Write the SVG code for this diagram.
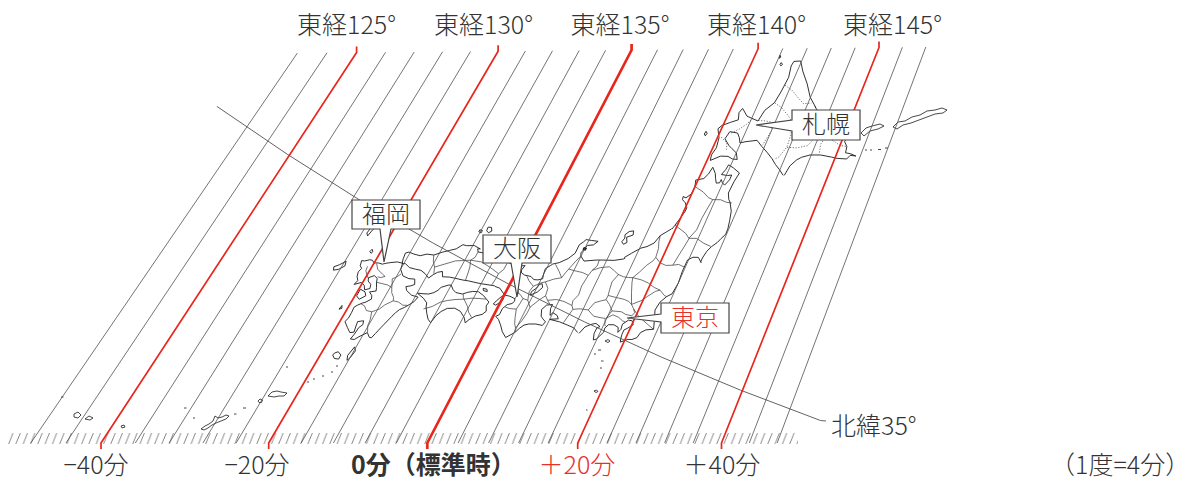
<svg xmlns="http://www.w3.org/2000/svg" width="1203" height="479" viewBox="0 0 1203 479">
<defs>
<style>
.mer{stroke:#505050;stroke-width:0.8;fill:none}
.red{stroke:#e8261c;stroke-width:1.7;fill:none;stroke-linejoin:round}
.red0{stroke-width:2.7}
.par{stroke:#505050;stroke-width:0.9;fill:none}
.coast{fill:none;stroke:#1a1a1a;stroke-width:0.9;stroke-linejoin:round;vector-effect:non-scaling-stroke}
.pref{fill:none;stroke:#333;stroke-width:0.7;stroke-linejoin:round;vector-effect:non-scaling-stroke}
.dot{fill:none;stroke:#333;stroke-width:0.7;stroke-dasharray:1.2 1.6;vector-effect:non-scaling-stroke}
.isl{fill:none;stroke:#1a1a1a;stroke-width:0.8;stroke-linejoin:round}
.lbl{font-family:"Noto Sans CJK JP","Noto Sans",sans-serif;font-size:25px;font-weight:300;fill:#333}
.call{font-family:"Noto Sans CJK JP","Noto Sans",sans-serif;font-size:24px;font-weight:300;fill:#333;text-anchor:middle}
.box{fill:#fff;stroke:#444;stroke-width:1.2;stroke-linejoin:miter}
.rt{fill:#e8302a}
</style>
<pattern id="hatch" patternUnits="userSpaceOnUse" x="8" y="433" width="7.3" height="11">
<path d="M0.6,11 L5,0" stroke="#666" stroke-width="0.8" fill="none"/>
</pattern>
</defs>
<rect width="1203" height="479" fill="#fff"/>
<rect id="scale-band" x="8" y="433" width="790" height="11" fill="url(#hatch)"/>

<g id="map">
<g transform="matrix(22.831,13.089,15.468,-26.98,319.85,357.33)">
<path class="coast" d="M0.95,3.95 L0.75,3.9 0.55,3.78 0.4,3.68 0.3,3.6 0.15,3.57 0,3.5 -0.1,3.55 -0.2,3.52 -0.35,3.4 -0.45,3.37 -0.4,3.2 -0.3,3.15 -0.35,3 -0.3,2.85 -0.2,2.75 -0.25,2.58 -0.05,2.75 0.1,2.72 0.2,2.6 0.35,2.72 0.3,2.85 0.15,2.9 0.1,3 0.25,3.15 0.4,3.12 0.45,3 0.55,2.85 0.6,2.75 0.45,2.65 0.4,2.62 0.55,2.55 0.6,2.45 0.45,2.25 0.38,2.2 0.25,2.05 0.18,1.95 0.2,1.75 0.2,1.55 0.15,1.4 0.35,1.27 0.52,1.17 0.65,1.25 0.6,1.45 0.57,1.6 0.75,1.72 0.8,1.6 0.72,1.45 0.7,1.2 0.66,1 0.8,1.05 0.9,1.2 1.1,1.45 1.25,1.35 1.33,1.37 1.38,1.55 1.45,1.8 1.48,1.9 1.6,2.3 1.65,2.45 1.72,2.6 1.85,2.75 1.95,2.9 2.05,3.05 2.1,3.25 1.85,3.2 1.6,3.25 1.5,3.35 1.65,3.45 1.75,3.55 1.65,3.7 1.45,3.62 1.2,3.6 1,3.75 Z"/>
<path class="coast" d="M-0.55,4.7 L-0.62,4.55 -0.68,4.35 -0.72,4.15 -0.8,4.22 -0.76,4.45 -0.66,4.68 Z M-0.32,3.85 L-0.25,3.8 -0.28,3.72 -0.35,3.75 Z M-1.2,2.65 L-1.05,2.75 -0.9,2.95 -0.95,3.1 -1.1,2.9 -1.25,2.75 Z M-0.25,1.8 L-0.2,1.72 -0.28,1.65 Z M0.05,2.55 L0.25,2.55 0.35,2.45 0.2,2.25 0.05,2.3 Z M0.4,0.35 L0.5,0.45 0.65,0.4 0.65,0.25 0.5,0.2 0.38,0.27 Z M0.95,0.85 L1.05,0.75 1,0.45 0.95,0.35 0.88,0.5 Z"/>
<path class="pref" d="M0.1,3.52 L0.25,3.38 0.5,3.32 0.62,3.3 0.5,3.2 0.38,3.17 M-0.15,3.3 L-0.12,3.15 0,3.05 0.1,2.98 M1.1,3.62 L1,3.45 0.9,3.35 1,3.2 1.05,3.1 M0.45,3 L0.65,3.05 0.85,3.1 1.05,3.1 1.15,2.95 1.3,2.85 1.35,2.75 1.55,2.8 1.75,2.78 1.9,2.85 M1.35,2.75 L1.15,2.5 1.05,2.3 0.95,2.2 0.85,2.1 0.65,2.05 0.5,2.15 0.35,2.15 M0.85,2.1 L0.95,1.85 0.98,1.65 1.1,1.46"/>
</g>
<g transform="matrix(22.637,12.352,14.897,-27.301,322.18,359.92)">
<path class="coast" d="M0.93,3.95 L0.88,4.1 0.85,4.3 0.95,4.38 1.15,4.4 1.4,4.45 1.6,4.6 1.85,4.68 2.1,4.9 2.3,5.05 2.5,5.2 2.65,5.42 2.8,5.45 3.05,5.57 3.32,5.57 3.23,5.53 3.3,5.45 3.5,5.5 3.8,5.52 4.2,5.55 4.5,5.62"/>
<path class="coast" d="M4.5,4.75 L4.4,4.72 4,4.6 3.8,4.55 3.5,4.48 3.3,4.42 3,4.35 2.8,4.3 2.55,4.2 2.45,4.35 2.3,4.25 2.2,4.12 2.1,3.95 1.9,4.02 1.7,4.05 1.5,4 1.25,3.95 1.05,4 0.93,3.95"/>
<path class="coast" d="M2,3.35 L2.2,3.42 2.4,3.5 2.55,3.62 2.65,3.75 2.7,3.88 2.9,4.05 3,4.1 3.15,4 3.3,3.96 3.55,4.02 3.7,4.15 3.85,4.25 4.05,4.33 4.3,4.3 4.6,4.2 4.58,4.05 4.68,3.9 4.6,3.75 4.4,3.6 4.25,3.4 4.18,3.25 4.05,3.38 3.8,3.5 3.55,3.5 3.3,3.38 3.15,3.2 3.05,3 3,2.72 2.85,2.78 2.7,2.92 2.55,3.1 2.5,3.22 2.3,3.3 Z"/>
<path class="coast" d="M3.18,6.3 L3.3,6.35 3.38,6.25 3.3,6.15 3.2,6.18 Z M2.95,6.1 L3.05,6.12 3.05,6.03 2.95,6.03 Z M4.15,4.5 L4.3,4.53 4.35,4.47 4.2,4.44 Z"/>
<path class="pref" d="M1.85,4.68 L1.95,4.5 2.1,4.35 2.2,4.15 M2.1,4.35 L2.4,4.6 2.7,4.85 3,5 3.2,5.1 3.3,5.25 3.3,5.45 M3.2,5.1 L3.3,4.9 3.35,4.7 3.4,4.45 M3.2,5.1 L3.6,5.22 4,5.2 4.4,5.15 4.4,4.95 4.38,4.73 M4.4,5.15 L4.5,5.35 4.5,5.62 M2.5,3 L2.75,3.2 2.95,3.45 3.15,3.6 3.4,3.75 3.7,3.9 M3.58,4.03 L3.65,3.93 3.7,3.9 3.95,4.05 4.2,4.15 4.45,4.24 M3.7,3.9 L3.95,3.75 4.1,3.6 4.3,3.5"/>
</g>
<g transform="matrix(22.778,11.268,13.79,-27.876,326.93,368.12)">
<path class="coast" d="M4.5,5.62 L4.8,5.65 5,5.68 5.2,5.78 5.15,5.6 5.2,5.52 5.35,5.5 5.6,5.55 5.75,5.5 5.9,5.55 6.05,5.65 6,5.8 5.97,5.98 6.1,6.15 6.15,6.22 6.35,6.35 6.6,6.6 6.75,6.85 6.75,7 6.75,7.15 6.85,7.3 6.9,7.4 7.1,7.45 7.35,7.52 7.25,7.35 7.05,7.25 7,7.1 6.95,6.95 7,6.85 7.2,6.75 7.4,6.85 7.65,6.97 7.85,7.05 8.25,7.2 8.55,7.37 8.6,7.42"/>
<path class="coast" d="M8.22,4.6 L8,4.68 7.75,4.67 7.4,4.65 7,4.58 7.3,4.72 7.2,4.8 7,4.82 6.95,4.7 6.85,4.9 6.85,5.05 6.65,4.95 6.55,4.75 6.65,4.55 6.75,4.5 6.9,4.45 6.85,4.3 6.6,4.25 6.35,4.15 6.2,4.05 6.1,3.9 6,3.7 5.77,3.43 5.55,3.55 5.37,3.72 5.2,3.85 5.05,3.9 5.15,4 5.15,4.22 5.25,4.4 5.4,4.5 5.45,4.6 5.42,4.68 5.2,4.68 4.99,4.64 4.7,4.77 4.5,4.75"/>
<path class="coast" d="M4.95,4.6 L5.02,4.5 4.95,4.35 4.85,4.22 4.75,4.22 4.8,4.35 4.88,4.5 Z M6.12,5.5 L6.2,5.4 6.1,5.2 5.95,5.05 5.9,5 5.88,5.12 6,5.3 6.04,5.45 Z"/>
<path d="M6.96,7.14 L7.06,7.16 7.06,7.08 6.96,7.07 Z" fill="#1a1a1a" stroke="#1a1a1a" stroke-width="1" vector-effect="non-scaling-stroke"/>
<path class="pref" d="M5,5.68 L5.1,5.4 5.25,5.15 5.4,4.95 5.45,4.9 5.42,4.68 M5.45,4.9 L5.6,4.85 5.7,4.8 5.9,4.82 M5.7,4.8 L5.68,4.6 5.65,4.4 5.4,4.32 5.22,4.3 M5.65,4.4 L5.75,4.15 5.85,3.95 5.95,3.85 6,3.7 M5.95,3.85 L6.05,4.15 6.1,4.45 6.1,4.65 5.9,4.82 M5.45,5.5 L5.6,5.4 5.85,5.3 5.8,5.1 5.85,4.95 5.9,4.82 M6.1,4.65 L6.3,5 6.45,5.2 6.6,5.1 6.75,5.02 M5.85,5.3 L6.05,5.5 6.2,5.6 6.4,5.45 6.45,5.2 M6.2,5.6 L6.45,5.8 6.7,5.95 6.5,6.1 6.25,6.25 M6.7,5.95 L6.75,6.15 6.8,6.3 6.9,6.6 7,6.85 M6.8,6.3 L7.1,6.35 7.35,6.4 7.6,6.4 7.65,6.6 7.75,6.8 7.72,7 M6.6,5.1 L6.9,5.25 7.2,5.3 7.55,5.3 7.5,5.45 7.6,5.7 7.55,6 7.6,6.4 M7.55,5.3 L7.65,5.2 7.6,4.95 7.55,4.68 M7.65,5.2 L7.85,5.3 8,5.35 8.2,5.4 8.3,5.7 8.5,5.85 8.65,5.95 8.65,6.1 8.6,6.3 8.55,6.55 8.65,6.85 M7.65,6.6 L7.9,6.8 8.2,6.95 8.45,6.9 8.65,6.85 M8.2,5.4 L8.5,5.3 8.75,5.35 8.95,5.4 9.05,5.2 9.12,5.18"/>
</g>
<g transform="matrix(22.681,10.383,12.945,-28.278,333.03,378.15)">
<path class="coast" d="M8.6,7.42 L8.8,7.65 9.05,7.92 9.25,8.05 9.45,8.25 9.55,8.55 9.7,8.72 9.85,8.9"/>
<path class="coast" d="M11.5,8.3 L11.3,8.42 11.1,8.35 10.95,8.2 10.95,7.8 11,7.4 10.95,7 10.8,6.85 10.65,6.6 10.6,6.3 10.72,6.05 10.87,5.72 10.6,5.6 10.45,5.45 10.4,5.25 10.25,5.13 10.1,5.08 9.87,4.9 9.83,5 9.8,5.15 9.8,5.3 9.9,5.4 10.05,5.58 9.95,5.68 9.8,5.65 9.65,5.45 9.68,5.28 9.62,5.15 9.55,5.3 9.35,5.32 9.15,5.25 9.07,5.1 9.1,4.97 8.95,4.67 8.85,4.6 8.77,4.8 8.78,5 8.87,5.08 8.67,5.12 8.5,5.02 8.33,4.87 8.22,4.6"/>
<path class="coast" d="M8.5,8.33 L8.55,8.2 8.35,8.05 8.45,7.9 8.35,7.8 8.25,7.85 8.3,8 8.25,8.1 8.35,8.25 Z"/>
<path class="pref" d="M8.95,5.4 L9.05,5.7 8.85,5.85 8.65,5.95 M8.95,5.4 L9.15,5.6 9.4,5.6 9.6,5.55 9.72,5.55 M9.05,5.7 L9.4,5.8 9.6,5.78 9.85,5.82 9.9,5.95 9.8,6.05 M9.8,6.05 L10.1,5.9 10.5,5.8 10.85,5.72 M8.65,6.1 L9,6.15 9.3,6.2 9.5,6.2 9.65,6.15 9.8,6.05 M9.65,6.15 L9.45,6.5 9.3,6.8 9.25,6.95 M9.65,6.15 L9.95,6.4 10.1,6.6 10.3,6.85 10.45,6.95 10.7,6.85 10.8,6.85 M8.65,6.85 L8.9,6.85 9.1,6.9 9.25,6.95 9.6,7 9.9,7 10.2,6.95 10.45,6.95 M9.25,6.95 L9.4,7.2 9.55,7.5 9.7,7.7 9.75,7.85 9.7,8.15 9.6,8.35 9.55,8.55 M9.75,7.85 L10,7.75 10.25,7.75 10.5,7.85 10.7,7.95 10.95,7.95 M10.5,7.85 L10.55,8.2 10.6,8.5 10.65,8.85"/>
</g>
<g transform="matrix(21.911,9.819,12.718,-28.381,342.97,384.91)">
<path class="coast" d="M9.85,8.9 L9.9,9.05 10,9.4 10.05,9.6 10.05,9.72 9.9,9.85 9.75,9.9 9.72,10 9.85,10 10,10.2 10,10.45 9.92,10.65 10.2,10.8 10.3,11 10.35,11.25 10.55,11.1 10.65,10.95 10.75,10.83 10.87,10.88 10.88,11 10.98,10.92 11.1,10.88 11.2,11.1 11.2,11.27 11.05,11.2 10.8,11.15 10.88,11.35 10.91,11.53 11.15,11.5 11.46,11.43 11.4,11.1 11.38,10.7 11.5,10.52 11.6,10.45 11.8,10.2 11.9,9.9 11.97,9.64 11.98,9.45 11.88,9.27 11.8,9.1 11.65,8.9 11.55,8.7 11.5,8.45 11.5,8.3"/>
<path class="pref" d="M9.9,9.05 L10.2,9 10.45,8.95 10.65,8.85 10.95,8.95 11.3,8.9 11.62,8.9 M10.65,8.85 L10.8,9.2 10.8,9.6 10.85,10 10.9,10.3 M9.98,10.45 L10.4,10.4 10.7,10.3 10.9,10.3 11.2,10.4 11.45,10.4 11.68,10.45"/>
</g>
<g transform="matrix(21.104,9.33,12.576,-28.444,353.52,391.04)">
<path class="coast" d="M13.35,14.35 L12.95,14.58 12.6,14.93 12.2,15.25 11.94,15.52 11.68,15.42 11.65,15.25 11.75,14.88 11.7,14.35 11.63,13.95 11.38,13.6 11.3,13.2 11,13.2 10.78,13.2 10.47,13.37 10.4,13.2 10.5,12.98 10.23,12.8 9.95,12.6 9.85,12.45 10.05,12.2 10.12,11.87 10.05,11.6 10.1,11.42 10.43,11.68 10.73,11.77 10.95,11.75 11.15,11.8 11,11.98 10.75,12.05 10.58,12.1 10.3,12.25 10.37,12.52 10.7,12.58 10.85,12.47 10.97,12.32 11.15,12.42 11.6,12.62 11.9,12.5 12.2,12.4 12.5,12.28 12.75,12.15 13,12.05 13.25,11.93"/>
<path class="coast" d="M11.2,15.22 L11.28,15.18 11.24,15.12 11.18,15.15 Z M11.02,15.42 L11.08,15.38 11.05,15.32 Z M9.42,12.22 L9.5,12.18 9.47,12.08 9.4,12.12 Z"/>
<path class="dot" d="M10.12,12.25 L10.45,12.15 10.55,11.95 M10.45,12.5 L10.7,12.72 10.9,12.95 11.05,13.2 M11.3,13.22 L11.6,13.3 11.9,13.35 12,13.1 11.95,12.8 11.9,12.55 M11.65,13.95 L12,13.9 12.4,13.75 12.7,13.6 12.85,13.2 12.9,12.8 12.75,12.4 12.6,12.28 M11.75,14.6 L12.1,14.55 12.5,14.4 12.8,14.3 13.1,14.42"/>
</g>
<g transform="matrix(21.204,8.697,11.801,-28.774,362.52,403.42)">
<path class="coast" d="M13.25,11.93 L13.32,12.28 13.5,12.55 13.65,12.68 13.95,12.85 14.38,12.98 14.85,13.05 15.1,13.08 15.5,13.18 15.58,13.33 15.82,13.38 15.55,13.38 15.35,13.35 15.3,13.55 15.13,13.67 15.19,14.02 15.33,14.35 14.99,14.07 14.67,13.91 14.27,14.02 13.9,14.12 13.6,14.22 13.35,14.35"/>
<path class="dot" d="M12.9,12.8 L13.3,12.9 13.7,13.1 13.9,13.5 14,13.95 M13.9,13.5 L14.3,13.6 14.7,13.55 15,13.5 15.3,13.55 M14.3,13.6 L14.2,13.3 14.3,13.02"/>
</g>
<g id="islands">
<path class="isl" d="M861,133 L866,128 872,126 880,124 884,126 878,129 870,131 864,136 Z"/>
<path class="isl" d="M893,127 L898,122 905,121 912,117 920,115 927,111 935,110 942,108 947,110 943,113 935,114 927,117 919,120 911,123 903,125 897,129 Z"/>
<path class="isl" d="M865,150 h2 M870,150 h2 M878,149.5 h3 M885,148 h3"/>
<path class="isl" d="M605,341 l3,-1.5 2,1.5 -2,1.5 Z M598,350 h3 M594,354 h2 M601,361 h2.5 M600,368 h2 M594,391 l2.5,-1 1.5,1.5 -2,1 Z M586,410 h1.5"/>
<path class="isl" d="M268,396 L272,392 277,391 281,392 287,393 284,396 279,396 274,397 Z"/>
<path class="isl" d="M258,401 l2,-2 2.5,1 -1,2.5 -2.5,0 Z M243,408 h3 M234,414 h2.5"/>
<path class="isl" d="M201,429 L205,426 209,424 213,421 215,416 218,418 222,417 226,415 229,416 226,419 221,421 216,423 212,425 208,428 204,430 Z"/>
<path class="isl" d="M184,408 h2.5 M193,418 h2 M121,426 l3,-1 1,2 -3,1 Z"/>
<path class="isl" d="M85,419 L89,416 93,418 90,420 Z M74,414 L78,412 81,415 78,418 74,417 Z M61,397 h2.5"/>
<path class="isl" d="M336,366 h2 M331,372 h2 M322,376 h2 M313,379 h2 M307,382 h2 M286,367 h2"/>
</g>
</g>

<g id="graticule">
<path class="mer" d="M297.4,53 L30.8,443 M327,52.75 L65.9,443 M385.6,52.25 L135.3,443 M414.2,52 L169.2,443 M442.6,51.75 L202.9,443 M470.5,51.5 L236.1,443 M525.4,51 L301.2,443 M552.5,50.75 L333.4,443 M579.2,50.5 L365.1,443 M605.6,50.25 L396.3,443 M657.5,49.75 L458.1,443 M683.2,49.5 L488.6,443 M708.5,49.25 L518.6,443 M733.3,49 L548.1,443 M782.8,48.5 L607,443 M807.2,48.25 L636,443 M831.3,48 L664.6,443 M855.2,47.75 L693.2,443 M902.4,47.25 L749.3,443 M925.8,47 L777.2,443"/>
<path class="par" d="M216.9,106.4 A2550,2550 0 0 0 820.5,420.5 L826,421"/>
<path class="red" d="M356.6,46.5 V52.5 L101,443 V449"/>
<path class="red" d="M498.1,45.25 V51.25 L268.7,443 V449"/>
<path class="red red0" d="M631.6,44 V50 L427.3,443 V449"/>
<path class="red" d="M758.1,42.75 V48.75 L577.7,443 V449"/>
<path class="red" d="M879,41.5 V47.5 L721.5,443 V449"/>
</g>

<g id="connectors">
<path class="box" d="M352,200 H420 V229 H391 L384,262 L380,229 H352 Z"/>
<path class="box" d="M483,235 H551 V263 H522 L517,297 L511,263 H483 Z"/>
<path class="box" d="M792,110 H860 V140 H792 V131 L756,125 L792,120 Z"/>
<path class="box" d="M661,303 H729 V333 H661 V322 L627,318 L661,314 Z"/>
</g>

<g id="node-fukuoka"><text class="call" x="386" y="223">福岡</text></g>
<g id="node-osaka"><text class="call" x="517" y="257">大阪</text></g>
<g id="node-sapporo"><text class="call" x="826" y="133">札幌</text></g>
<g id="node-tokyo"><text class="call rt" x="695" y="326">東京</text></g>

<g id="labels-top" class="lbl" text-anchor="middle">
<text x="346.5" y="34">東経125°</text>
<text x="483.5" y="34">東経130°</text>
<text x="620" y="34">東経135°</text>
<text x="756.5" y="34">東経140°</text>
<text x="892.5" y="34">東経145°</text>
</g>
<g id="labels-bottom" class="lbl">
<text x="96" y="474" text-anchor="middle">−40分</text>
<text x="257" y="474" text-anchor="middle">−20分</text>
<text x="351" y="474" font-weight="bold">0分（標準時）</text>
<text x="577" y="474" text-anchor="middle" class="rt">＋20分</text>
<text x="722" y="474" text-anchor="middle">＋40分</text>
<text x="1050" y="474">（1度=4分）</text>
<text x="831" y="435">北緯35°</text>
</g>
</svg>
